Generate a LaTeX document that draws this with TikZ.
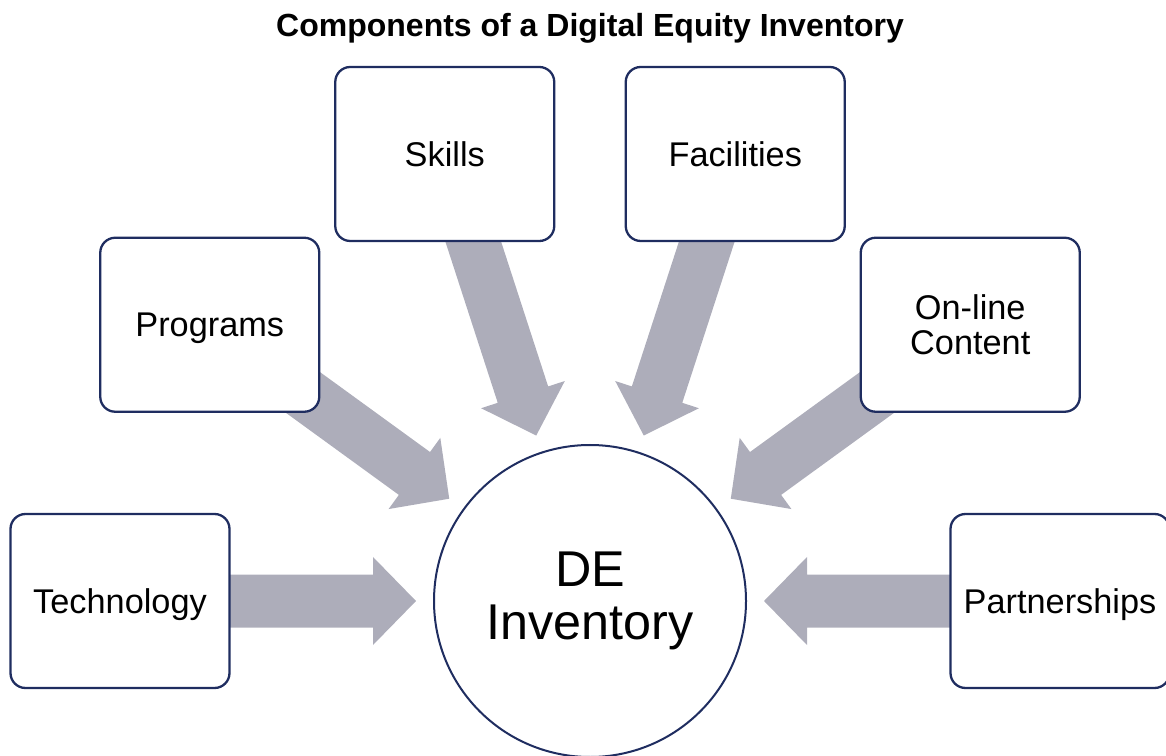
\documentclass[tikz,border=0pt]{standalone}
\usepackage{fontspec}
\setmainfont{Liberation Sans}
\usetikzlibrary{calc,backgrounds}
\definecolor{navy}{RGB}{31,45,96}
\definecolor{arrowgray}{RGB}{173,173,186}
\newcommand\dearrow[1]{%
  \coordinate (tp) at ($(core.center)!174pt!(#1.center)$);
  \coordinate (hb) at ($(core.center)!217pt!(#1.center)$);
  \coordinate (tl) at ($(core.center)!400pt!(#1.center)$);
  \fill[arrowfill] (tp) -- ($(hb)!44pt!90:(#1.center)$) -- ($(hb)!26.5pt!90:(#1.center)$)
    -- ($(tl)!26.5pt!90:(#1.center)$) -- ($(tl)!26.5pt!-90:(#1.center)$)
    -- ($(hb)!26.5pt!-90:(#1.center)$) -- ($(hb)!44pt!-90:(#1.center)$) -- cycle;}
\tikzset{
  compbox/.style={draw=navy, line width=2.3pt, fill=white, rounded corners=15pt,
    minimum width=219pt, minimum height=174pt, inner sep=0pt, align=center,
    font=\fontsize{34.3}{35.5}\selectfont},
  oneline/.style={text height=24.5pt, text depth=0pt},
  corecircle/.style={circle, draw=navy, line width=2pt, fill=white, minimum size=312pt,
    inner sep=0pt, align=center, font=\fontsize{50.3}{53}\selectfont},
  arrowfill/.style={fill=arrowgray},
  titletext/.style={font=\bfseries\fontsize{32}{36}\selectfont, anchor=base}
}
\begin{document}
\begin{tikzpicture}[x=1pt,y=1pt]
\useasboundingbox (0,0) rectangle (1166,755);
\coordinate (c) at (590,154);
\node[titletext] (title) at (590,718) {Components of a Digital Equity Inventory};
\node[corecircle] (core) at (c) {DE\\Inventory};
\node[compbox, oneline] (tech) at ($(c)+(180:470)$) {Technology};
\node[compbox, oneline] (prog) at ($(c)+(144:470)$) {Programs};
\node[compbox, oneline] (skil) at ($(c)+(108:470)$) {Skills};
\node[compbox, oneline] (faci) at ($(c)+(72:470)$) {Facilities};
\node[compbox] (onli) at ($(c)+(36:470)$) {On-line\\Content};
\node[compbox, oneline] (part) at ($(c)+(0:470)$) {Partnerships};
\begin{scope}[on background layer]
  \dearrow{tech}
  \dearrow{prog}
  \dearrow{skil}
  \dearrow{faci}
  \dearrow{onli}
  \dearrow{part}
\end{scope}
\end{tikzpicture}
\end{document}
